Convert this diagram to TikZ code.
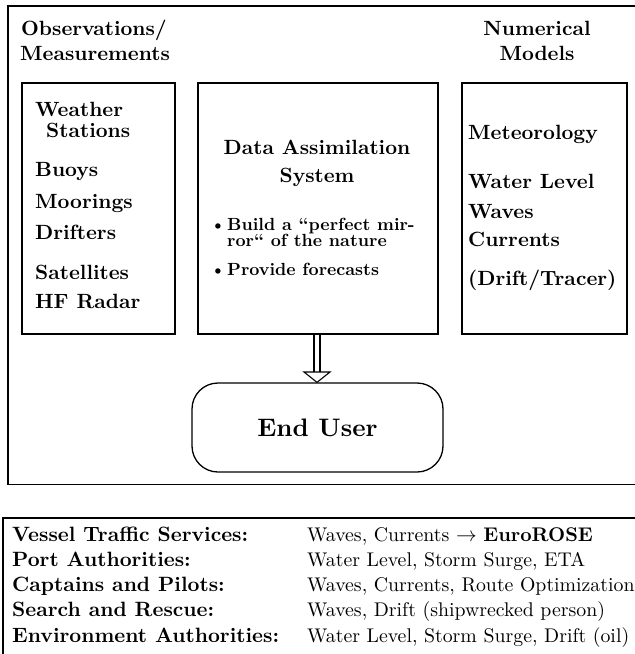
\documentclass[tikz,border=0pt]{standalone}
\usepackage{fontspec}
\setmainfont{lmroman10-regular.otf}[Ligatures=TeX, BoldFont=lmroman10-bold.otf]
\usepackage{tikz}
\begin{document}
\begin{tikzpicture}[x=1pt,y=-1pt,
  bigbf/.style={font=\fontsize{20.6}{24}\selectfont\bfseries, inner sep=0pt},
  smallbf/.style={font=\fontsize{17.6}{17}\selectfont\bfseries, inner sep=0pt, anchor=base west},
  tabbf/.style={font=\fontsize{20.7}{24}\selectfont\bfseries, inner sep=0pt, anchor=base west},
  tabrm/.style={font=\fontsize{19.8}{24}\selectfont, inner sep=0pt, anchor=base west},
  panel/.style={draw, line width=1.6pt, inner sep=0pt, anchor=north west},
  framel/.style={line width=1.6pt},
  conn/.style={line width=1.4pt}
]
\clip (0,0) rectangle (635,654);
% outer frame (open at the right)
\draw[framel] (650,6) -- (8,6) -- (8,484.5) -- (650,484.5);
% titles
\node[bigbf, anchor=base west] (tobs1) at (21,35) {Observations/};
\node[bigbf, anchor=base west] (tobs2) at (20,60) {Measurements};
\node[bigbf, anchor=base] (tnum1) at (537,35) {Numerical};
\node[bigbf, anchor=base] (tnum2) at (537,60) {Models};
% boxes
\node[panel, minimum width=153pt, minimum height=251pt] (obs) at (21,82) {};
\node[panel, minimum width=240pt, minimum height=251pt] (das) at (197,82) {};
\node[panel, minimum width=165pt, minimum height=251pt] (num) at (461,82) {};
% left box text
\node[bigbf, anchor=base west] (o1) at (35,116) {Weather};
\node[bigbf, anchor=base west] (o2) at (46,137.7) {Stations};
\node[bigbf, anchor=base west] (o3) at (35,176.7) {Buoys};
\node[bigbf, anchor=base west] (o4) at (35,208) {Moorings};
\node[bigbf, anchor=base west] (o5) at (35,239.3) {Drifters};
\node[bigbf, anchor=base west] (o6) at (35,279.3) {Satellites};
\node[bigbf, anchor=base west] (o7) at (35,308.3) {HF Radar};
% middle box text
\node[bigbf, anchor=base] (d1) at (317,154) {Data Assimilation};
\node[bigbf, anchor=base] (d2) at (317,182.7) {System};
\node[smallbf] (b1) at (210,230) {\textbullet};
\node[smallbf] (d3) at (227,230) {Build a ``perfect mir-};
\node[smallbf] (d4) at (227,246.7) {ror`` of the nature};
\node[smallbf] (b2) at (210,275) {\textbullet};
\node[smallbf] (d5) at (227,275) {Provide forecasts};
% right box text
\node[bigbf, anchor=base west] (n1) at (468,139) {Meteorology};
\node[bigbf, anchor=base west] (n2) at (468,188) {Water Level};
\node[bigbf, anchor=base west] (n3) at (468,218) {Waves};
\node[bigbf, anchor=base west] (n4) at (468,246.7) {Currents};
\node[bigbf, anchor=base west] (n5) at (468,285) {(Drift/Tracer)};
% end user
\node[draw, line width=1.3pt, rounded corners=26pt, minimum width=251pt, minimum height=89pt,
      inner sep=0pt, font=\fontsize{25.3}{30}\selectfont\bfseries] (eu) at (317.5,427.5) {End User};
% arrow (double shaft, open triangle head)
\coordinate (ahbase) at (317,372);
\draw[conn] ([xshift=-3pt]das.south -| ahbase) -- ([xshift=-3pt]ahbase);
\draw[conn] ([xshift=3pt]das.south -| ahbase) -- ([xshift=3pt]ahbase);
\draw[line width=1.1pt, fill=white, line join=miter] ([xshift=-13pt]ahbase) -- ([xshift=13pt]ahbase) -- (eu.north -| ahbase) -- cycle;
% table
\draw[line width=1.8pt] (3,660) -- (3,518.3) -- (650,518.3);
\node[tabbf] (r1a) at (12,541) {Vessel Traffic Services:};
\node[tabbf] (r2a) at (12,566) {Port Authorities:};
\node[tabbf] (r3a) at (12,591.7) {Captains and Pilots:};
\node[tabbf] (r4a) at (12,616.7) {Search and Rescue:};
\node[tabbf] (r5a) at (12,642.2) {Environment Authorities:};
\node[tabrm] (r1b) at (307,541) {Waves, Currents $\rightarrow$ \textbf{EuroROSE}};
\node[tabrm] (r2b) at (307,566) {Water Level, Storm Surge, ETA};
\node[tabrm] (r3b) at (307,591.7) {Waves, Currents, Route Optimization};
\node[tabrm] (r4b) at (307,616.7) {Waves, Drift (shipwrecked person)};
\node[tabrm] (r5b) at (307,642.2) {Water Level, Storm Surge, Drift (oil)};
\end{tikzpicture}
\end{document}
